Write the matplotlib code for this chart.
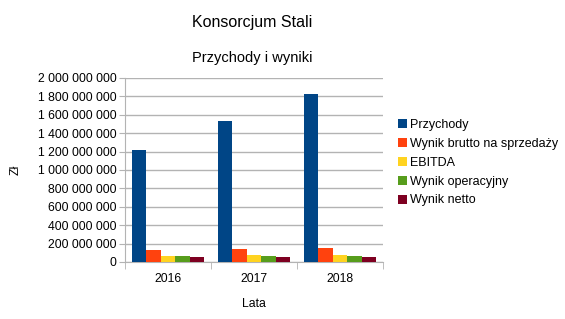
import numpy as np
import matplotlib
matplotlib.use('Agg')
import matplotlib.pyplot as plt
from matplotlib.ticker import FuncFormatter, FixedLocator

plt.rcParams['font.family'] = ['Liberation Sans', 'DejaVu Sans']

years = ['2016', '2017', '2018']
series = ['Przychody', 'Wynik brutto na sprzedaży', 'EBITDA',
          'Wynik operacyjny', 'Wynik netto']
przychody = [1.218e9, 1.533e9, 1.827e9]
wynik_brutto = [1.30e8, 1.45e8, 1.49e8]
ebitda = [0.69e8, 0.73e8, 0.80e8]
wynik_operacyjny = [0.65e8, 0.65e8, 0.65e8]
wynik_netto = [0.50e8, 0.50e8, 0.50e8]
colors = ['#004586', '#ff420e', '#ffd320', '#579d1c', '#7e0021']

values = [przychody, wynik_brutto, ebitda, wynik_operacyjny, wynik_netto]

fig = plt.figure(figsize=(5.65, 3.19), dpi=100)
ax = fig.add_axes([125/565, 57/319, 258/565, 184/319])

x = np.arange(len(years))
group = 0.84
w = group / len(series)
for i, (name, vals) in enumerate(zip(series, values)):
    ax.bar(x - group/2 + w*(i + 0.5), vals, w, color=colors[i], label=name, zorder=3)

ax.set_xlim(-0.5, 2.5)
ax.set_ylim(0, 2e9)
ax.set_yticks(np.arange(0, 2.01e9, 2e8))
ax.yaxis.set_major_formatter(FuncFormatter(lambda v, p: f'{int(round(v)):,}'.replace(',', ' ')))
ax.grid(axis='y', color='#b3b3b3', linewidth=1, zorder=0)

ax.set_xticks(x)
ax.set_xticklabels(years)
ax.xaxis.set_minor_locator(FixedLocator([-0.5, 0.5, 1.5, 2.5]))
ax.tick_params(axis='x', which='major', length=0, pad=8, labelsize=8.8)
ax.tick_params(axis='x', which='minor', length=5, color='#b3b3b3')
ax.tick_params(axis='y', length=4, color='#b3b3b3', labelsize=8.8, pad=2)

for s in ['top', 'right']:
    ax.spines[s].set_visible(False)
for s in ['left', 'bottom']:
    ax.spines[s].set_color('#b3b3b3')

ax.set_xlabel('Lata', fontsize=8.8, labelpad=9)
ax.set_ylabel('Zł', fontsize=8.8, labelpad=12)

fig.text(252/565, 1 - 22/319, 'Konsorcjum Stali', ha='center', va='center', fontsize=11.5)
fig.text(252/565, 1 - 58/319, 'Przychody i wyniki', ha='center', va='center', fontsize=10.5)

ax.legend(loc='upper left', bbox_to_anchor=(393/565, 1 - 114/319),
          bbox_transform=fig.transFigure, frameon=False, fontsize=9.0,
          handlelength=0.7, handleheight=0.7, handletextpad=0.3,
          labelspacing=0.55, borderaxespad=0)

fig.savefig('out.png', dpi=100)
